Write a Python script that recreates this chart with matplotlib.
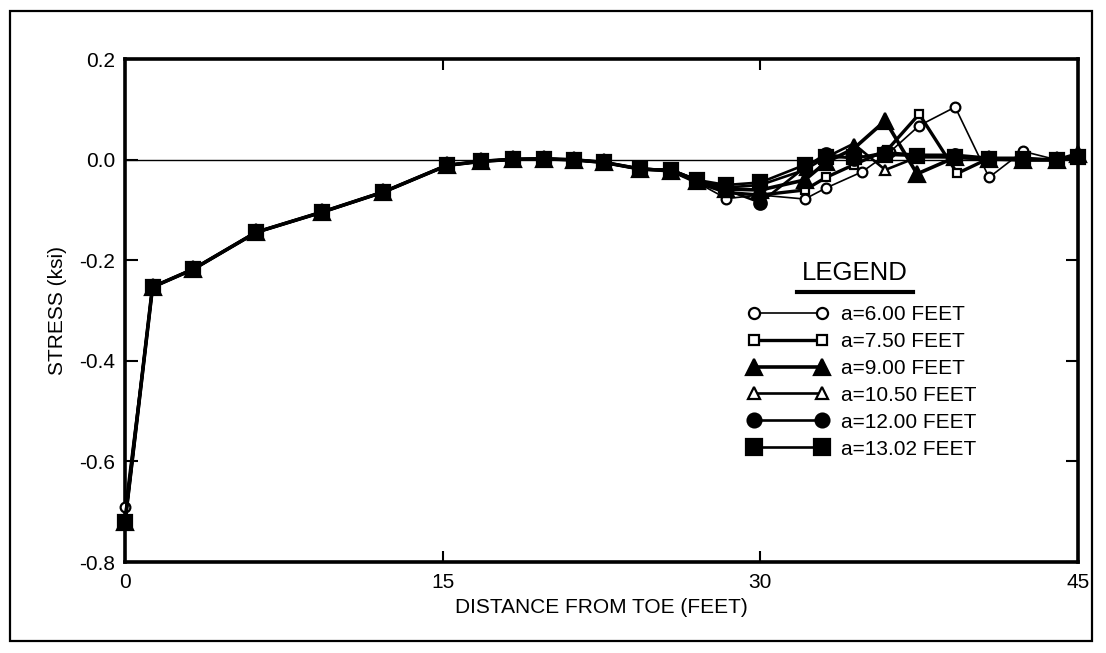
import matplotlib.pyplot as plt
from matplotlib.lines import Line2D
from matplotlib.patches import Rectangle

plt.rcParams['font.family'] = ['Liberation Sans', 'DejaVu Sans']

# shared part of every curve (toe up to ~24 ft)
x_common = [0, 1.3, 3.2, 6.2, 9.3, 12.2, 15.2, 16.8, 18.3, 19.8, 21.2, 22.6, 24.3]
y_common = [-0.72, -0.253, -0.218, -0.144, -0.104, -0.064, -0.011, -0.003,
            0.001, 0.002, 0.0, -0.005, -0.018]

# tails past 24 ft, one per crack length
x_600 = [25.8, 27.0, 28.4, 30.0, 32.1, 33.1, 34.8, 36.1, 37.5, 39.2, 40.8, 42.4, 44.0, 45.0]
y_600 = [-0.022, -0.045, -0.077, -0.07, -0.078, -0.056, -0.024, 0.015, 0.068, 0.105,
         -0.035, 0.017, 0.0, 0.005]

x_750 = [25.8, 27.0, 28.4, 30.0, 32.1, 33.1, 34.4, 36.0, 37.5, 39.3, 40.8, 42.4, 44.0, 45.0]
y_750 = [-0.022, -0.045, -0.065, -0.07, -0.06, -0.035, -0.01, 0.02, 0.091, -0.027,
         0.003, 0.0, 0.0, 0.005]

x_900 = [25.8, 27.0, 28.4, 30.0, 32.1, 33.1, 34.4, 35.9, 37.4, 39.2, 40.8, 42.4, 44.0, 45.0]
y_900 = [-0.022, -0.042, -0.058, -0.06, -0.04, -0.005, 0.022, 0.078, -0.028, 0.005,
         0.002, 0.0, 0.0, 0.012]

x_1050 = [25.8, 27.0, 28.4, 30.0, 32.1, 33.1, 34.4, 35.9, 37.4, 39.2, 40.8, 42.4, 44.0, 45.0]
y_1050 = [-0.02, -0.04, -0.055, -0.05, -0.02, 0.005, 0.032, -0.02, 0.005, 0.005,
          0.0, 0.0, 0.0, 0.01]

x_1200 = [25.8, 27.0, 28.4, 30.0, 32.1, 33.1, 34.4, 35.9, 37.4, 39.2, 40.8, 42.4, 44.0, 45.0]
y_1200 = [-0.02, -0.04, -0.06, -0.085, -0.015, 0.012, 0.002, 0.015, 0.01, 0.01,
          0.004, 0.004, 0.0, 0.008]

x_1302 = [25.8, 27.0, 28.4, 30.0, 32.1, 33.1, 34.4, 35.9, 37.4, 39.2, 40.8, 42.4, 44.0, 45.0]
y_1302 = [-0.02, -0.04, -0.05, -0.045, -0.01, 0.005, 0.005, 0.01, 0.008, 0.005,
          0.002, 0.002, 0.0, 0.006]

labels = ["a=6.00 FEET", "a=7.50 FEET", "a=9.00 FEET",
          "a=10.50 FEET", "a=12.00 FEET", "a=13.02 FEET"]

fig = plt.figure(figsize=(11.06, 6.53), dpi=100)
fig.patches.append(Rectangle((10 / 1106, 1 - 641 / 653), 1082 / 1106, 630 / 653,
                             transform=fig.transFigure, fill=False,
                             edgecolor='black', linewidth=1.6))
ax = fig.add_axes([125 / 1106, 1 - 562 / 653, 953 / 1106, 502.7 / 653])

ax.axhline(0, color='black', linewidth=1.0)

styles = [
    dict(marker='o', ms=7, mfc='white', lw=1.2),
    dict(marker='s', ms=6, mfc='white', lw=2.4),
    dict(marker='^', ms=11, mfc='black', lw=2.6),
    dict(marker='^', ms=7, mfc='white', lw=1.9),
    dict(marker='o', ms=9, mfc='black', lw=1.9),
    dict(marker='s', ms=10, mfc='black', lw=1.9),
]
tails = [(x_600, y_600), (x_750, y_750), (x_900, y_900),
         (x_1050, y_1050), (x_1200, y_1200), (x_1302, y_1302)]

handles = []
for i, ((xt, yt), st, lab) in enumerate(zip(tails, styles, labels)):
    yc = list(y_common)
    if i == 0:
        yc[0] = -0.69
    xs = x_common + xt
    ys = yc + yt
    # filled markers end up on top, like the blobs in the original scan
    z = 3 + (2 if st['mfc'] == 'black' else 0) + i * 0.1
    ax.plot(xs, ys, color='black', marker=st['marker'], ms=st['ms'],
            mfc=st['mfc'], mec='black', mew=1.6, lw=st['lw'], clip_on=False,
            zorder=z)
    handles.append(Line2D([0], [0], color='black', marker=st['marker'],
                          ms=st['ms'] + 1, mfc=st['mfc'], mec='black', mew=1.6,
                          lw=st['lw']))

ax.set_xlim(0, 45)
ax.set_ylim(-0.8, 0.2)
ax.set_xticks([0, 15, 30, 45])
ax.set_yticks([-0.8, -0.6, -0.4, -0.2, 0.0, 0.2])
ax.set_yticklabels(['-0.8', '-0.6', '-0.4', '-0.2', '0.0', '0.2'])
ax.tick_params(axis='both', direction='in', labelsize=15, width=1.5,
               top=True, right=True)
ax.tick_params(axis='y', length=9, pad=7)
ax.tick_params(axis='x', length=8, pad=8)
for sp in ax.spines.values():
    sp.set_linewidth(2.6)

ax.set_xlabel("DISTANCE FROM TOE (FEET)", fontsize=15, labelpad=4)
ax.set_ylabel("STRESS (ksi)", fontsize=15, labelpad=9)

# legend block: title + underline + matplotlib legend
fig.text(855 / 1106, 1 - 273 / 653, "LEGEND", fontsize=18.5, ha='center', va='center')
fig.lines.append(Line2D([797 / 1106, 913 / 1106], [1 - 292 / 653, 1 - 292 / 653],
                        transform=fig.transFigure, color='black', linewidth=3))
leg = fig.legend(handles, labels, loc='upper left',
                 bbox_to_anchor=(748 / 1106, 1 - 305 / 653), frameon=False,
                 fontsize=15, numpoints=2, handlelength=3.85, handletextpad=0.6,
                 labelspacing=0.38, borderpad=0, borderaxespad=0)

fig.savefig("out.png", dpi=100)
